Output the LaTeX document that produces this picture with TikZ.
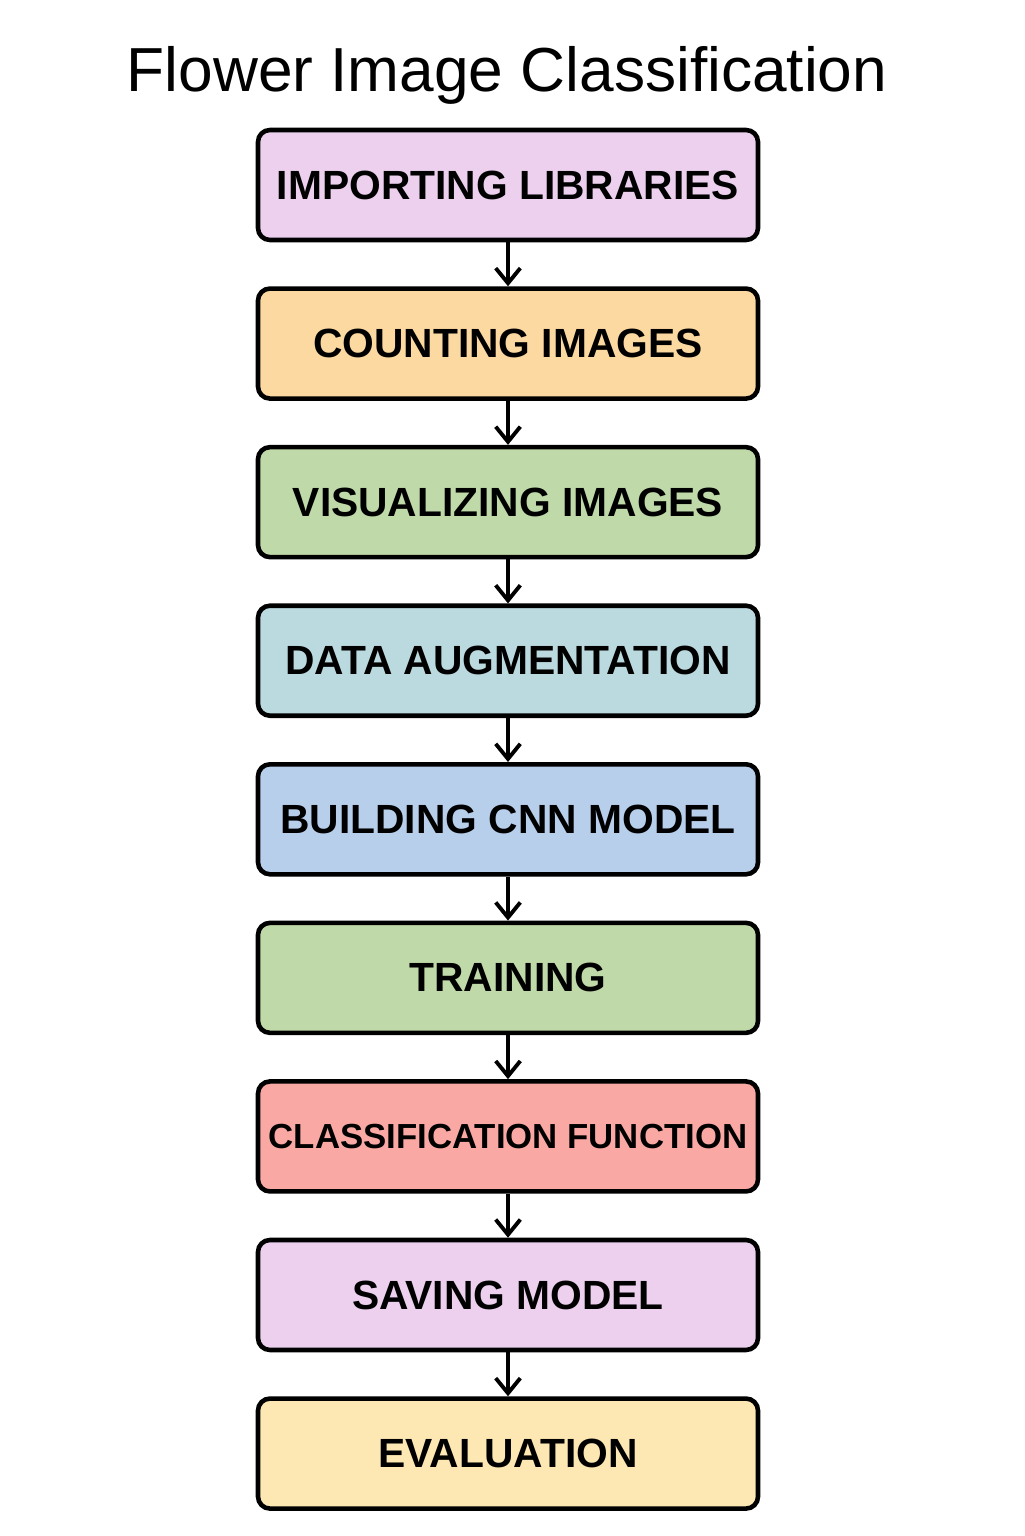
\documentclass[tikz,border=0pt]{standalone}
\usepackage{fontspec}
\setmainfont{Liberation Sans}
\usepackage{tikz}
\usetikzlibrary{arrows.meta,positioning}
\definecolor{lav}{HTML}{ECD0EE}
\definecolor{org}{HTML}{FDD9A2}
\definecolor{grn}{HTML}{BFDAA8}
\definecolor{cyn}{HTML}{BBDADF}
\definecolor{blu}{HTML}{B8CFEC}
\definecolor{red}{HTML}{F9A8A4}
\definecolor{ylw}{HTML}{FDE7B2}
\tikzstyle{box} = [rectangle, rounded corners=3.4pt, draw=black, line width=1.3pt, align=center, inner sep=0pt, minimum width=5.0cm, minimum height=1.1cm, font=\fontsize{11.6}{13}\selectfont\bfseries]
\tikzstyle{arr} = [-{Straight Barb[length=4.3pt,width=7pt,line width=1.1pt]}, line width=1.1pt]
\tikzstyle{ttl} = [font=\fontsize{17.7}{20}\selectfont]

\begin{document}
\begin{tikzpicture}[node distance=0.44cm]
		\useasboundingbox (0,0) rectangle (10.24,-15.36);

		\node[ttl] (title) at (5.07,-0.75) {Flower Image Classification};

		\node[box, fill=lav] (imp) at (5.08,-1.85) {IMPORTING LIBRARIES};
		\node[box, fill=org, below=of imp] (cnt) {COUNTING IMAGES};
		\node[box, fill=grn, below=of cnt] (vis) {VISUALIZING IMAGES};
		\node[box, fill=cyn, below=of vis] (aug) {DATA AUGMENTATION};
		\node[box, fill=blu, below=of aug] (cnn) {BUILDING CNN MODEL};
		\node[box, fill=grn, below=of cnn] (trn) {TRAINING};
		\node[box, fill=red, below=of trn, font=\fontsize{9.9}{12}\selectfont\bfseries] (cls) {CLASSIFICATION FUNCTION};
		\node[box, fill=lav, below=of cls] (sav) {SAVING MODEL};
		\node[box, fill=ylw, below=of sav] (evl) {EVALUATION};

		\foreach \a/\b in {imp/cnt, cnt/vis, vis/aug, aug/cnn, cnn/trn, trn/cls, cls/sav, sav/evl}
			\draw[arr] (\a) -- (\b);
	\end{tikzpicture}
\end{document}
